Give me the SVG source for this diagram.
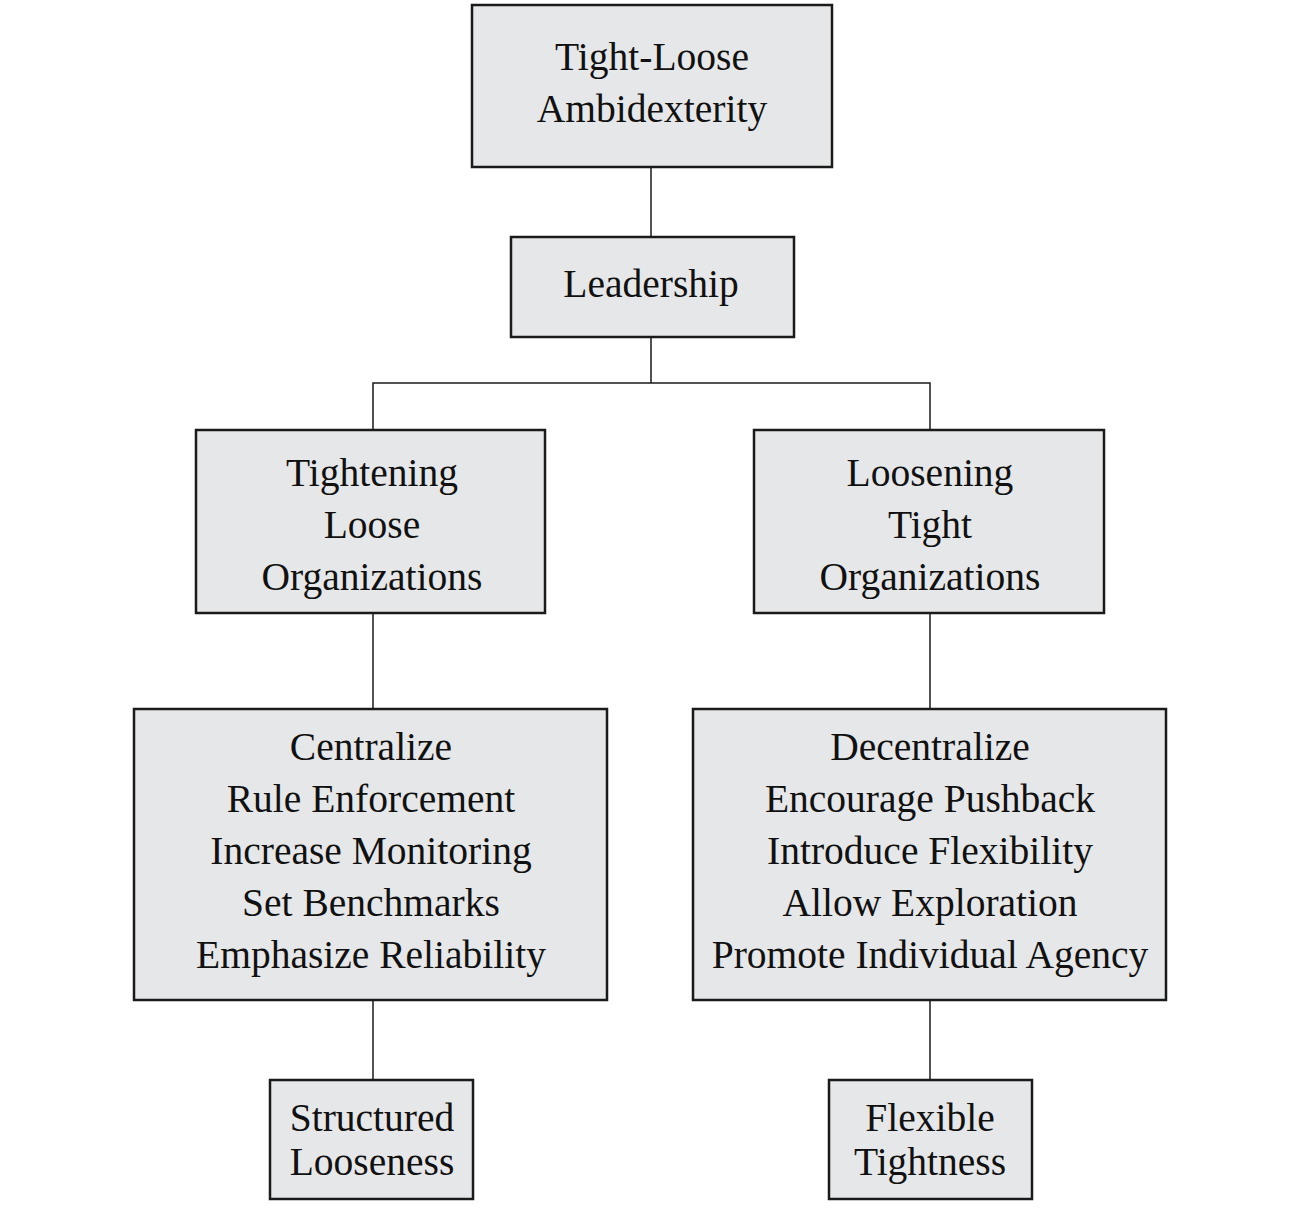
<svg xmlns="http://www.w3.org/2000/svg" width="1300" height="1210" viewBox="0 0 1300 1210">
<style>
.box{fill:#e6e7e8;stroke:#1a1a1a;stroke-width:2.5}
.t{font-family:"Liberation Serif","DejaVu Serif",serif;font-size:39.5px;fill:#111;text-anchor:middle}
.c{fill:none;stroke:#1a1a1a;stroke-width:1.5}
</style>
<rect width="1300" height="1210" fill="#fff"/>
<g id="connectors">
<path class="c" d="M651 167V237"/>
<path class="c" d="M651 337V383M373 430V383H930V430"/>
<path class="c" d="M373 613V709"/>
<path class="c" d="M930 613V709"/>
<path class="c" d="M373 1000V1080"/>
<path class="c" d="M930 1000V1080"/>
</g>
<g id="n1"><rect class="box" x="472" y="5" width="360" height="162"/>
<text class="t" x="652" y="70">Tight-Loose</text><text class="t" x="652" y="122">Ambidexterity</text></g>
<g id="n2"><rect class="box" x="511" y="237" width="283" height="100"/>
<text class="t" x="651" y="297">Leadership</text></g>
<g id="n3"><rect class="box" x="196" y="430" width="349" height="183"/>
<text class="t" x="372" y="486">Tightening</text><text class="t" x="372" y="538">Loose</text><text class="t" x="372" y="590">Organizations</text></g>
<g id="n4"><rect class="box" x="754" y="430" width="350" height="183"/>
<text class="t" x="930" y="486">Loosening</text><text class="t" x="930" y="538">Tight</text><text class="t" x="930" y="590">Organizations</text></g>
<g id="n5"><rect class="box" x="134" y="709" width="473" height="291"/>
<text class="t" x="371" y="760">Centralize</text><text class="t" x="371" y="812">Rule Enforcement</text><text class="t" x="371" y="864">Increase Monitoring</text><text class="t" x="371" y="916">Set Benchmarks</text><text class="t" x="371" y="968">Emphasize Reliability</text></g>
<g id="n6"><rect class="box" x="693" y="709" width="473" height="291"/>
<text class="t" x="930" y="760">Decentralize</text><text class="t" x="930" y="812">Encourage Pushback</text><text class="t" x="930" y="864">Introduce Flexibility</text><text class="t" x="930" y="916">Allow Exploration</text><text class="t" x="930" y="968">Promote Individual Agency</text></g>
<g id="n7"><rect class="box" x="270" y="1080" width="203" height="119"/>
<text class="t" x="372" y="1131">Structured</text><text class="t" x="372" y="1175">Looseness</text></g>
<g id="n8"><rect class="box" x="829" y="1080" width="203" height="119"/>
<text class="t" x="930" y="1131">Flexible</text><text class="t" x="930" y="1175">Tightness</text></g>
</svg>
